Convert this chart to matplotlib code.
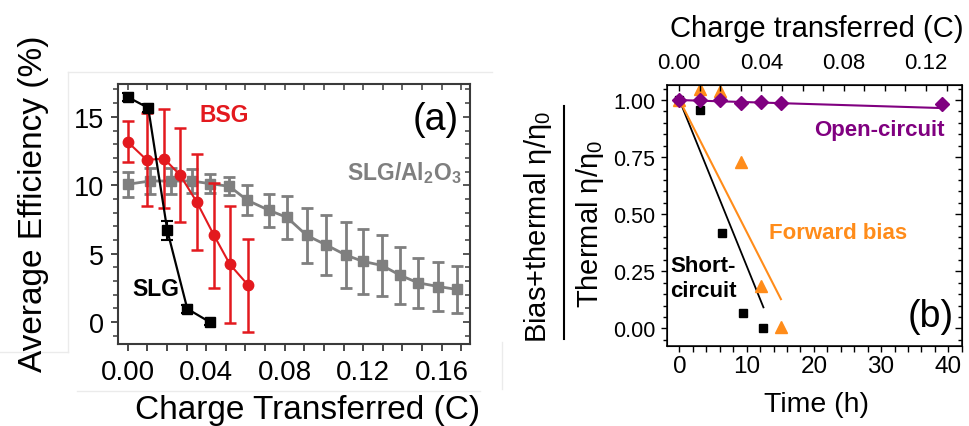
import matplotlib
matplotlib.use('Agg')
import matplotlib.pyplot as plt
from matplotlib.ticker import MultipleLocator, FormatStrFormatter
from matplotlib.lines import Line2D

plt.rcParams['font.family'] = ['Liberation Sans', 'DejaVu Sans']
plt.rcParams['mathtext.fontset'] = 'custom'
plt.rcParams['mathtext.rm'] = 'Liberation Sans'
plt.rcParams['mathtext.it'] = 'Liberation Sans:italic'
plt.rcParams['mathtext.bf'] = 'Liberation Sans:bold'

# ---- panel (a): efficiency vs charge transferred ----
charge_slg = [0.0, 0.0105, 0.0202, 0.0304, 0.0419]
eff_slg = [16.45, 15.65, 6.7, 0.97, 0.0]
err_slg = [0.3, 0.3, 0.7, 0.3, 0.2]

charge_bsg = [0.0, 0.0097, 0.0185, 0.0267, 0.0352, 0.044, 0.0521, 0.0615]
eff_bsg = [13.17, 11.85, 11.95, 10.75, 8.78, 6.34, 4.22, 2.68]
err_bsg = [1.5, 3.4, 3.6, 3.4, 3.5, 3.85, 4.25, 3.4]

charge_al = [0.0, 0.0114, 0.0219, 0.0326, 0.0419, 0.0518, 0.061, 0.0722, 0.0812,
             0.0912, 0.101, 0.1112, 0.1198, 0.1296, 0.139, 0.148, 0.1583, 0.1676]
eff_al = [10.07, 10.31, 10.31, 10.31, 10.12, 9.92, 8.9, 8.16, 7.65,
          6.34, 5.65, 4.9, 4.44, 4.14, 3.41, 2.87, 2.6, 2.39]
err_al = [0.9, 0.95, 0.95, 0.9, 0.7, 0.65, 1.1, 1.2, 1.6,
          2.0, 2.2, 2.4, 2.4, 2.2, 2.1, 1.85, 1.8, 1.7]

# ---- panel (b): normalised efficiency vs time ----
time_oc = [0, 3.1, 6.05, 9.1, 12.1, 15.1, 39.0]
ratio_oc = [1.0, 1.0, 1.0, 0.985, 0.99, 0.985, 0.982]
fit_oc_t = [0, 39.0]
fit_oc = [1.0, 0.965]

time_sc = [0, 3.1, 6.3, 9.5, 12.5]
ratio_sc = [1.0, 0.955, 0.416, 0.066, 0.0]
fit_sc_t = [0, 12.5]
fit_sc = [1.0, 0.092]

time_fb = [0, 3.1, 6.05, 9.1, 12.1, 15.1]
ratio_fb = [1.0, 1.05, 1.04, 0.73, 0.187, 0.004]
fit_fb_t = [0, 15.1]
fit_fb = [1.0, 0.128]

red = '#e3191e'
gray = '#7f7f7f'
purple = '#800080'
orange = '#ff8c1a'

fig = plt.figure(figsize=(9.69, 4.27), dpi=100)

# faint frame lines from the source image
for xs, ys in [([68, 68], [73, 353]), ([68, 492], [73, 73]), ([0, 68], [353, 353]),
               ([77, 480], [392, 392]), ([502, 502], [343, 390])]:
    fig.add_artist(Line2D([x / 969 for x in xs], [1 - y / 427 for y in ys],
                          transform=fig.transFigure, color='#ebebeb', lw=1))

ax1 = fig.add_axes([0.1218, 0.192, 0.3632, 0.609])
frame_a = '#3a3a3a'
ax1.errorbar(charge_al, eff_al, yerr=err_al, fmt='-s', color=gray, ms=7, lw=2,
             elinewidth=2, capsize=4.5, capthick=2, zorder=2)
ax1.errorbar(charge_bsg, eff_bsg, yerr=err_bsg, fmt='-o', color=red, ms=7.5, lw=1.5,
             elinewidth=1.8, capsize=4, capthick=1.8, zorder=3)
ax1.errorbar(charge_slg, eff_slg, yerr=err_slg, fmt='-s', color='black', ms=7, lw=1.6,
             elinewidth=1.5, capsize=4, capthick=1.5, zorder=4)
ax1.set_xlim(-0.0049, 0.1744)
ax1.set_ylim(-1.6, 17.4)
ax1.xaxis.set_major_locator(MultipleLocator(0.04))
ax1.xaxis.set_minor_locator(MultipleLocator(0.01))
ax1.xaxis.set_major_formatter(FormatStrFormatter('%.2f'))
ax1.yaxis.set_major_locator(MultipleLocator(5))
ax1.yaxis.set_minor_locator(MultipleLocator(1))
ax1.tick_params(axis='x', which='both', direction='out', length=5, width=1.3,
                color=frame_a, labelsize=20, pad=5.5)
ax1.tick_params(axis='y', which='major', direction='out', length=5, width=1.3,
                color=frame_a, labelsize=19.5, pad=5)
ax1.tick_params(axis='y', which='minor', direction='out', length=3.5, width=1.1, color=frame_a)
for s in ax1.spines.values():
    s.set_color(frame_a)
    s.set_linewidth(1.5)
top_a = ax1.secondary_xaxis('top')
top_a.xaxis.set_major_locator(MultipleLocator(0.04))
top_a.xaxis.set_minor_locator(MultipleLocator(0.01))
top_a.tick_params(which='both', direction='in', length=4, width=1.1, color=frame_a,
                  labeltop=False)
top_a.spines['top'].set_visible(False)
right_a = ax1.secondary_yaxis('right')
right_a.yaxis.set_major_locator(MultipleLocator(5))
right_a.yaxis.set_minor_locator(MultipleLocator(1))
right_a.tick_params(which='major', direction='in', length=5, width=1.2, color=frame_a,
                    labelright=False)
right_a.tick_params(which='minor', direction='in', length=3.5, width=1.1, color=frame_a)
right_a.spines['right'].set_visible(False)

ax1.text(0.049, 15.2, 'BSG', color=red, fontsize=16.5, fontweight='bold',
         ha='center', va='center')
ax1.text(0.0143, 2.44, 'SLG', color='black', fontsize=16.5, fontweight='bold',
         ha='center', va='center')
ax1.text(0.1700, 11.0, r'SLG/Al$_\mathbf{2}$O$_\mathbf{3}$', color=gray, fontsize=16.5,
         fontweight='bold', ha='right', va='center')
ax1.text(0.157, 14.85, '(a)', fontsize=27, ha='center', va='center')

fig.text(308 / 969, 1 - 411 / 427, 'Charge Transferred (C)', fontsize=24,
         ha='center', va='center')
fig.text(34 / 969, 1 - 204 / 427, 'Average Efficiency (%)', fontsize=24,
         rotation=90, ha='center', va='center')

# ---- panel (b) ----
ax2 = fig.add_axes([0.688, 0.188, 0.3045, 0.6106])
ax2.plot(fit_sc_t, fit_sc, color='black', lw=1.3, zorder=2)
ax2.plot(fit_fb_t, fit_fb, color=orange, lw=1.5, zorder=2)
ax2.plot(fit_oc_t, fit_oc, color=purple, lw=1.5, zorder=2)
ax2.plot(time_sc, ratio_sc, 's', color='black', ms=6, zorder=3)
ax2.plot(time_fb, ratio_fb, '^', color=orange, ms=8, zorder=3)
ax2.plot(time_oc, ratio_oc, 'D', color=purple, ms=7, zorder=4)
ax2.set_xlim(-1.9, 42)
ax2.set_ylim(-0.076, 1.066)
ax2.xaxis.set_major_locator(MultipleLocator(10))
ax2.xaxis.set_minor_locator(MultipleLocator(2))
ax2.yaxis.set_major_locator(MultipleLocator(0.25))
ax2.yaxis.set_minor_locator(MultipleLocator(0.05))
ax2.yaxis.set_major_formatter(FormatStrFormatter('%.2f'))
ax2.tick_params(axis='x', which='both', direction='out', length=4, width=1,
                labelsize=17.5, pad=3)
ax2.tick_params(axis='y', which='major', direction='out', length=4, width=1,
                labelsize=15.5, pad=4)
ax2.tick_params(axis='y', which='minor', direction='out', length=3, width=1)
for s in ax2.spines.values():
    s.set_linewidth(1.1)
right_b = ax2.secondary_yaxis('right')
right_b.yaxis.set_major_locator(MultipleLocator(0.25))
right_b.yaxis.set_minor_locator(MultipleLocator(0.05))
right_b.tick_params(which='major', direction='in', length=5, width=1, labelright=False)
right_b.tick_params(which='minor', direction='in', length=3, width=1)
right_b.spines['right'].set_visible(False)

top_b = ax2.twiny()
top_b.set_xlim(-0.0061, 0.1374)
top_b.xaxis.set_major_locator(MultipleLocator(0.04))
top_b.xaxis.set_minor_locator(MultipleLocator(0.01))
top_b.xaxis.set_major_formatter(FormatStrFormatter('%.2f'))
top_b.tick_params(axis='x', which='both', direction='in', length=4, width=1,
                  labelsize=16, pad=8.5)

ax2.text(29.8, 0.873, 'Open-circuit', color=purple, fontsize=16, fontweight='bold',
         ha='center', va='center')
ax2.text(23.6, 0.42, 'Forward bias', color=orange, fontsize=16, fontweight='bold',
         ha='center', va='center')
ax2.text(-1.4, 0.22, 'Short-\ncircuit', color='black', fontsize=16, fontweight='bold',
         ha='left', va='center', linespacing=1.25)
ax2.text(37.4, 0.055, '(b)', fontsize=27, ha='center', va='center')

fig.text(817 / 969, 1 - 405 / 427, 'Time (h)', fontsize=20.5, ha='center', va='center')
fig.text(817 / 969, 1 - 29 / 427, 'Charge transferred (C)', fontsize=21,
         ha='center', va='center')
fig.text(538 / 969, 1 - 227 / 427, 'Bias+thermal η/η$_0$', fontsize=21, rotation=90,
         ha='center', va='center')
fig.text(590 / 969, 1 - 223.5 / 427, 'Thermal η/η$_0$', fontsize=21, rotation=90,
         ha='center', va='center')
fig.add_artist(Line2D([564 / 969, 564 / 969], [1 - 107 / 427, 1 - 340 / 427],
                      transform=fig.transFigure, color='black', lw=1.5))

fig.savefig('out.png', dpi=100)
